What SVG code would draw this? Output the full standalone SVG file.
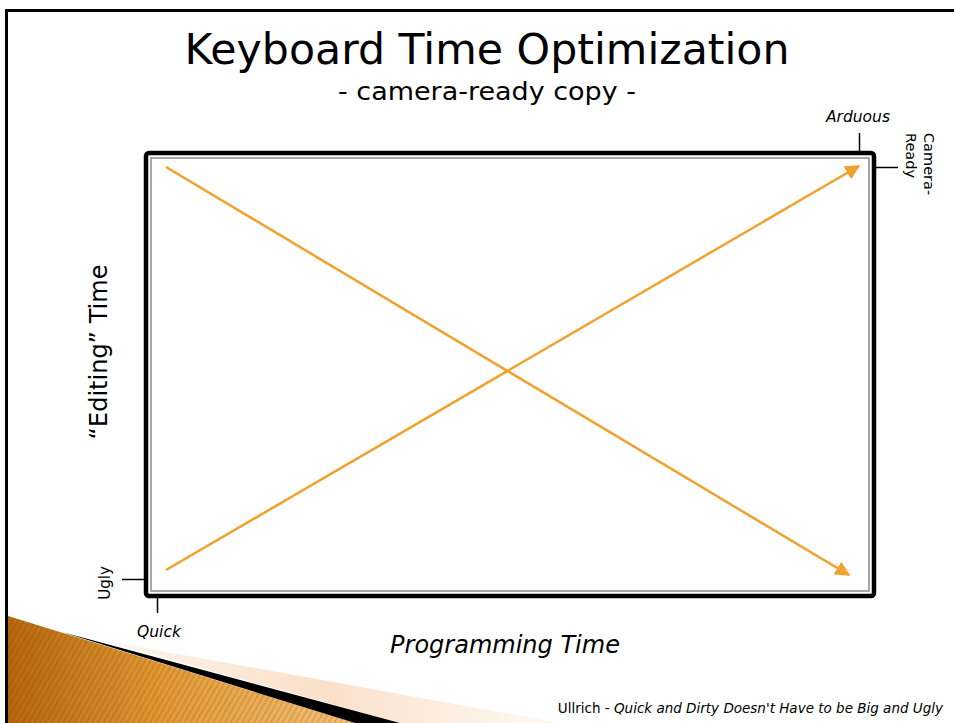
<svg xmlns="http://www.w3.org/2000/svg" width="954" height="723" viewBox="0 0 954 723">
<defs>
<style>
.lbl{font-family:"DejaVu Sans",Verdana,sans-serif;fill:#000}
.it{font-style:italic}
.arrow{stroke:#f0a22e;stroke-width:2.5;fill:none}
</style>
<marker id="ah" viewBox="0 0 10 10" refX="9" refY="5" markerWidth="6" markerHeight="6" orient="auto" markerUnits="strokeWidth">
<path d="M0,0 L10,5 L0,10 z" fill="#f0a22e"/>
</marker>
<linearGradient id="og" x1="0" y1="0" x2="1" y2="0">
<stop offset="0" stop-color="#b5680f"/>
<stop offset="0.45" stop-color="#e39a36"/>
<stop offset="1" stop-color="#f4c27a"/>
</linearGradient>
<linearGradient id="pg" x1="0" y1="0" x2="1" y2="0">
<stop offset="0" stop-color="#f7d2b0" stop-opacity="0.2"/>
<stop offset="0.5" stop-color="#f9d8bc" stop-opacity="0.8"/>
<stop offset="1" stop-color="#fbe6d4" stop-opacity="0.3"/>
</linearGradient>
<pattern id="stripes" width="5" height="5" patternUnits="userSpaceOnUse" patternTransform="rotate(30)">
<rect width="2" height="5" fill="#7a3f00" opacity="0.18"/>
</pattern>
</defs>
<rect width="954" height="723" fill="#fff"/>
<g id="decoration">
<polygon points="100,640 560,723 400,723" fill="url(#pg)"/>
<polygon points="8,616 355,723 8,723" fill="url(#og)"/>
<polygon points="8,616 355,723 8,723" fill="url(#stripes)"/>
<polygon points="62,632 400,723 355,723" fill="#000"/>
</g>
<g id="frame">
<line x1="5" y1="10.5" x2="954" y2="10.5" stroke="#000" stroke-width="3"/>
<line x1="6.5" y1="9" x2="6.5" y2="723" stroke="#000" stroke-width="3"/>
</g>
<g id="title">
<text class="lbl" x="487" y="64" font-size="42" text-anchor="middle" textLength="605" lengthAdjust="spacingAndGlyphs">Keyboard Time Optimization</text>
<text class="lbl" x="487" y="100" font-size="24" text-anchor="middle" textLength="298" lengthAdjust="spacingAndGlyphs">- camera-ready copy -</text>
</g>
<g id="chart">
<rect x="146" y="153" width="728" height="443" rx="3" fill="none" stroke="#000" stroke-width="4.5"/>
<rect x="151" y="158" width="718" height="433" fill="none" stroke="#8a8a8a" stroke-width="1.5"/>
</g>
<g id="connectors">
<line class="arrow" x1="166" y1="167" x2="849" y2="575" marker-end="url(#ah)"/>
<line class="arrow" x1="166" y1="570" x2="859" y2="166" marker-end="url(#ah)"/>
<line x1="859.5" y1="133" x2="859.5" y2="151" stroke="#000" stroke-width="1.5"/>
<line x1="876" y1="167.5" x2="898" y2="167.5" stroke="#000" stroke-width="1.5"/>
<line x1="122" y1="579.5" x2="144" y2="579.5" stroke="#000" stroke-width="1.5"/>
<line x1="157.5" y1="598" x2="157.5" y2="613" stroke="#000" stroke-width="1.5"/>
</g>
<g id="axis-labels">
<text class="lbl it" x="858" y="122" font-size="15.5" text-anchor="middle">Arduous</text>
<text class="lbl" font-size="14.5" transform="translate(924,133) rotate(90)"><tspan x="0" y="0">Camera-</tspan><tspan x="0" y="18">Ready</tspan></text>
<text class="lbl" font-size="15" text-anchor="middle" transform="translate(110,583) rotate(-90)">Ugly</text>
<text class="lbl it" x="159" y="637" font-size="15.5" text-anchor="middle">Quick</text>
<text class="lbl it" x="505" y="653" font-size="24" text-anchor="middle">Programming Time</text>
<text class="lbl" font-size="24" text-anchor="middle" transform="translate(107,352) rotate(-90)">“Editing” Time</text>
</g>
<g id="footer">
<text class="lbl" x="943" y="713" font-size="13.5" text-anchor="end">Ullrich - <tspan class="it">Quick and Dirty Doesn't Have to be Big and Ugly</tspan></text>
</g>
</svg>
